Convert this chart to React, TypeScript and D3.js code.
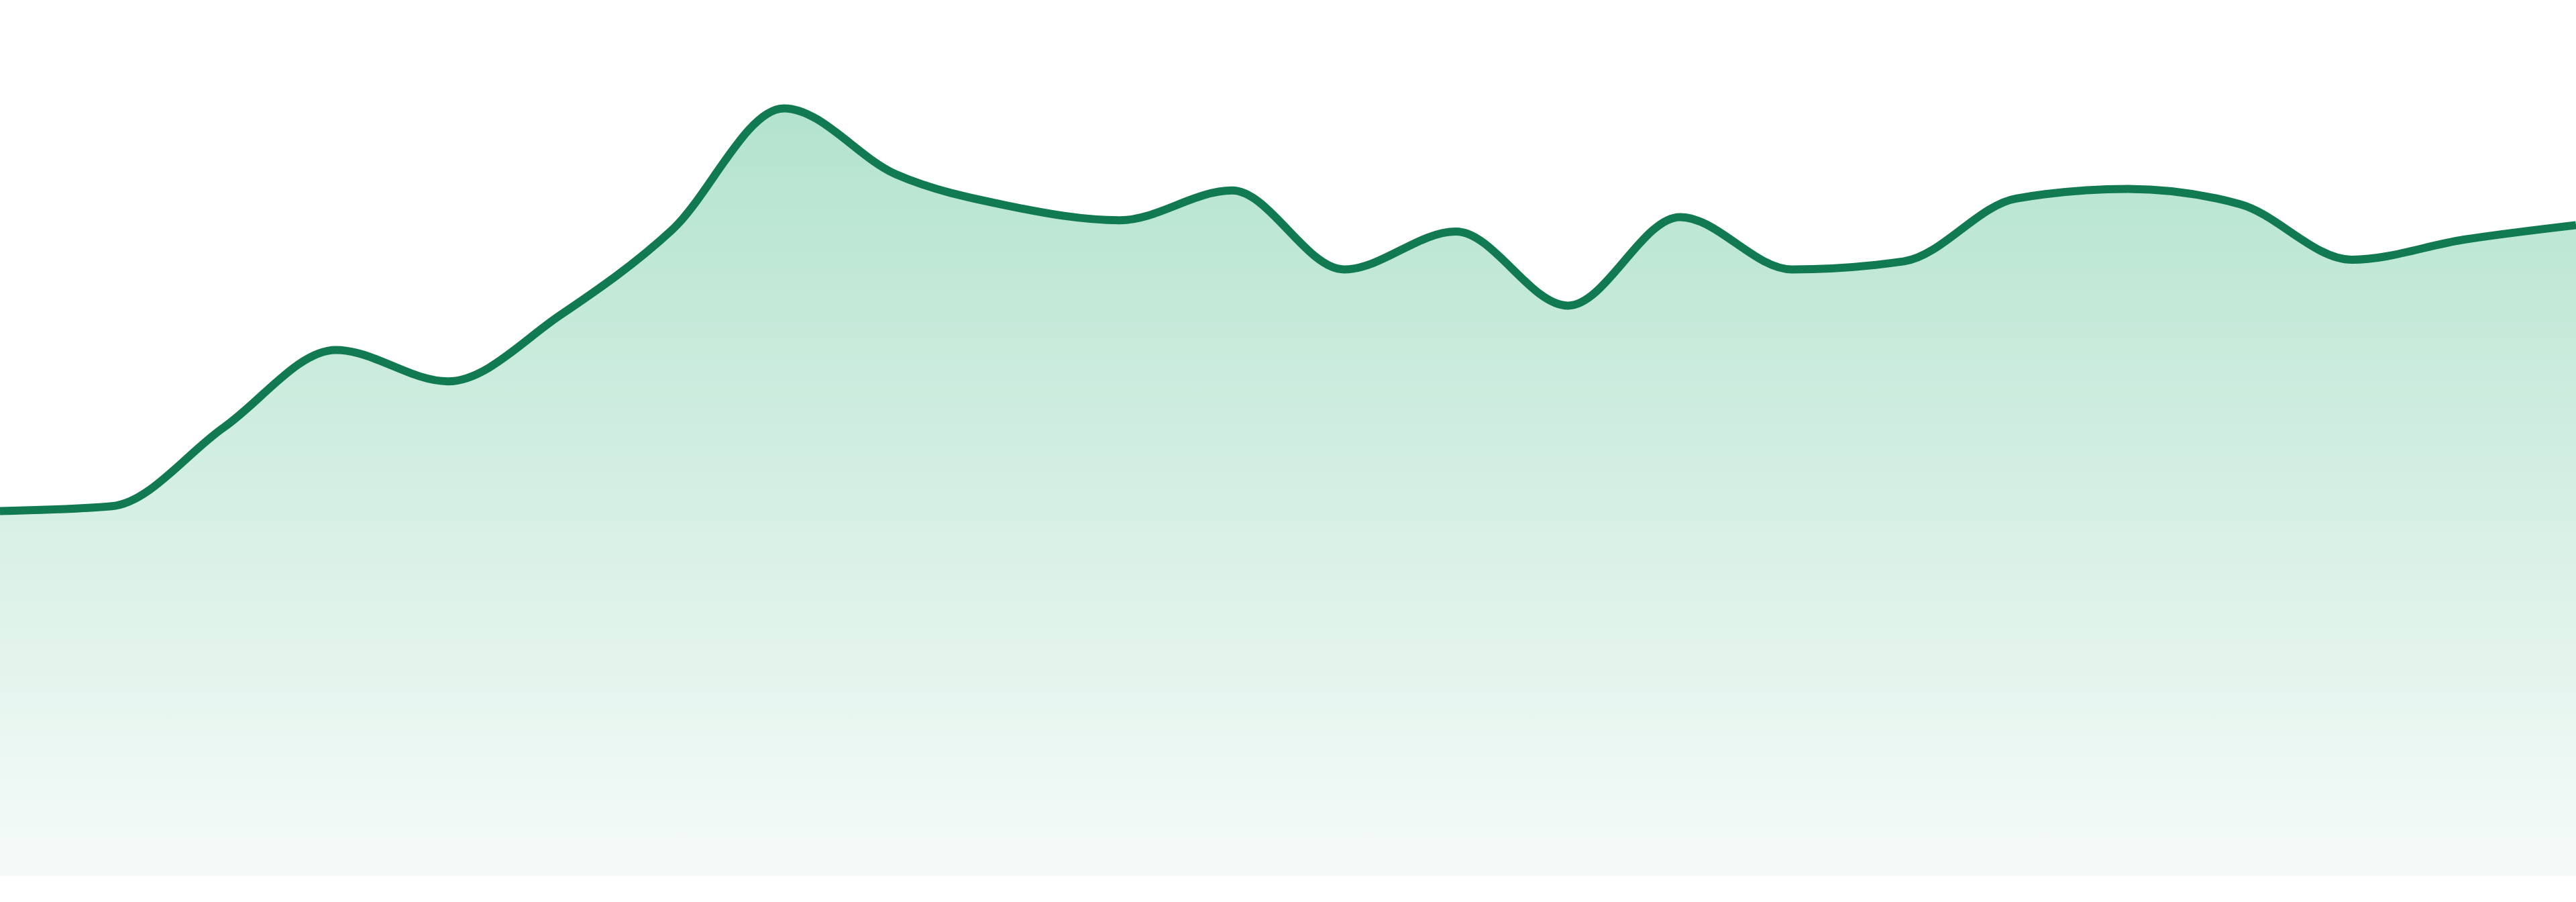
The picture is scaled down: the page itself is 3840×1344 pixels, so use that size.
import { useEffect, useRef } from "react";
import * as d3 from "d3";

const W = 3840;
const H = 1344;
const BASE_Y = 1305;

// one reading per column, evenly spaced across the full width
const steps = d3.range(24);
const values = [
  45.3, 45.9, 55.7, 65.3, 61.4, 69.6, 80.2, 95.3, 87.1, 83.2, 81.4, 85.1,
  75.3, 80.0, 70.8, 81.8, 75.3, 76.3, 84.1, 85.3, 83.4, 76.5, 79.0, 80.8,
];

const LINE = "#117a50";
const FILL_TOP = "#b3e3ce";
const FILL_BOTTOM = "#f6fbf9";

export default function App() {
  const svgRef = useRef<SVGSVGElement>(null);

  useEffect(() => {
    const svg = d3.select(svgRef.current);
    if (!svg.node()) return;
    svg.selectAll("*").remove();

    const x = d3
      .scaleLinear()
      .domain([0, steps.length - 1])
      .range([0, W]);
    const y = d3.scaleLinear().domain([0, 100]).range([BASE_Y, 105]);

    const grad = svg
      .append("defs")
      .append("linearGradient")
      .attr("id", "areaFill")
      .attr("gradientUnits", "userSpaceOnUse")
      .attr("x1", 0)
      .attr("x2", 0)
      .attr("y1", y(d3.max(values) ?? 100))
      .attr("y2", BASE_Y);
    grad.append("stop").attr("offset", 0).attr("stop-color", FILL_TOP);
    grad.append("stop").attr("offset", 1).attr("stop-color", FILL_BOTTOM);

    const area = d3
      .area<number>()
      .x((_d, i) => x(steps[i]))
      .y0(BASE_Y)
      .y1((d) => y(d))
      .curve(d3.curveMonotoneX);

    const line = d3
      .line<number>()
      .x((_d, i) => x(steps[i]))
      .y((d) => y(d))
      .curve(d3.curveMonotoneX);

    svg.append("path").datum(values).attr("d", area).attr("fill", "url(#areaFill)");

    svg
      .append("path")
      .datum(values)
      .attr("d", line)
      .attr("fill", "none")
      .attr("stroke", LINE)
      .attr("stroke-width", 12)
      .attr("stroke-linejoin", "round");
  }, []);

  return (
    <svg
      ref={svgRef}
      width={W}
      height={H}
      style={{ position: "absolute", left: 0, top: 0, background: "#fff" }}
    />
  );
}
